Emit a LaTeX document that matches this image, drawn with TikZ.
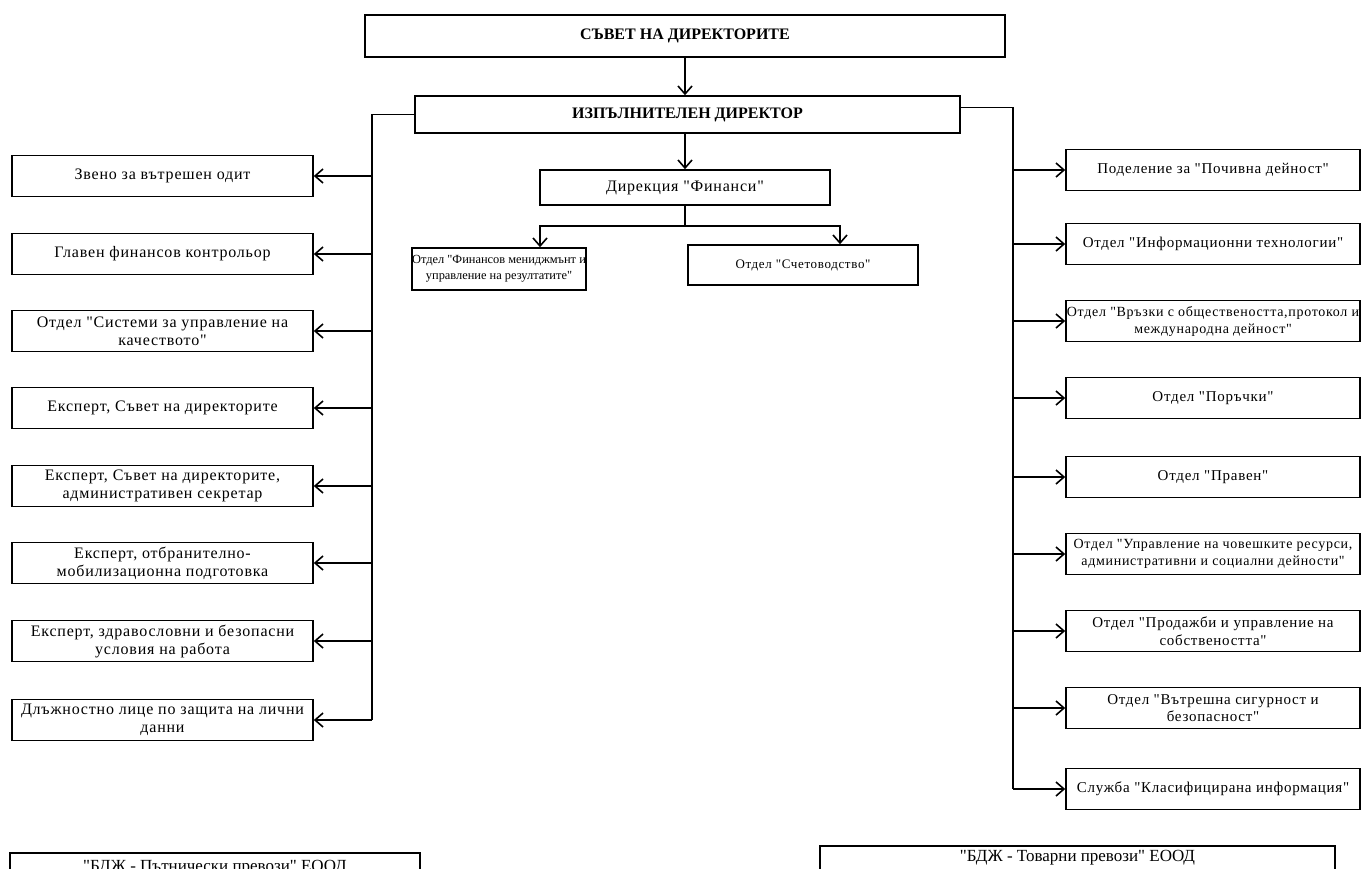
\documentclass[tikz,border=0pt]{standalone}
\usepackage{fontspec}
\setmainfont{Liberation Serif}[Ligatures=TeXOff]
\newfontfamily\unitfont{Liberation Serif}[LetterSpace=5,Ligatures=TeXOff]
\usepackage{tikz}
\usetikzlibrary{arrows.meta}

\begin{document}
\begin{tikzpicture}[->,>={Straight Barb[length=4pt,width=7pt]},x=0.5pt,y=-0.5pt,line width=0.8pt,
                unit/.style={draw,align=center,inner sep=1pt,font=\unitfont\fontsize{8}{9}\selectfont},
                left unit/.style={unit,minimum width=150.5pt,minimum height=20.5pt},
                right unit/.style={unit,minimum width=147pt,minimum height=20.5pt,font=\unitfont\fontsize{7.5}{8.8}\selectfont},
                head/.style={draw,font=\bfseries\fontsize{8}{9}\selectfont},
                firm/.style={draw,anchor=north,inner ysep=0pt,text depth=14pt,font=\fontsize{8.5}{10}\selectfont}]

            \useasboundingbox (0,0) rectangle (1363,868);

            \node[head, minimum width=320pt, minimum height=21pt] (SD) at (685,36) {СЪВЕТ НА ДИРЕКТОРИТЕ};
            \node[head, minimum width=272.5pt, minimum height=18.5pt] (ID) at (687.5,114.5) {ИЗПЪЛНИТЕЛЕН ДИРЕКТОР};
            \node[unit, minimum width=145pt, minimum height=17.5pt] (DF) at (685,187.5) {Дирекция "Финанси"};
            \node[unit, minimum width=86pt, minimum height=21pt, inner xsep=0pt, font=\fontsize{6.2}{8}\selectfont] (FM) at (499,269)
                {Отдел "Финансов мениджмънт и\\управление на резултатите"};
            \node[unit, minimum width=115pt, minimum height=20pt, font=\unitfont\fontsize{6.5}{8}\selectfont] (SC) at (803,265)
                {Отдел "Счетоводство"};

            \node[left unit] (L1) at (162.5,176) {Звено за вътрешен одит};
            \node[left unit] (L2) at (162.5,254) {Главен финансов контрольор};
            \node[left unit] (L3) at (162.5,331) {Отдел "Системи за управление на\\качеството"};
            \node[left unit] (L4) at (162.5,408) {Експерт, Съвет на директорите};
            \node[left unit] (L5) at (162.5,486) {Експерт, Съвет на директорите,\\административен секретар};
            \node[left unit] (L6) at (162.5,563) {Експерт, отбранително-\\мобилизационна подготовка};
            \node[left unit] (L7) at (162.5,641) {Експерт, здравословни и безопасни\\условия на работа};
            \node[left unit] (L8) at (162.5,720) {Длъжностно лице по защита на лични\\данни};

            \node[right unit] (R1) at (1213,170) {Поделение за  "Почивна дейност"};
            \node[right unit] (R2) at (1213,244) {Отдел "Информационни технологии"};
            \node[right unit, inner xsep=0pt, font=\unitfont\fontsize{7}{8.5}\selectfont] (R3) at (1213,321)
                {Отдел "Връзки с обществеността,протокол и\\международна дейност"};
            \node[right unit] (R4) at (1213,398) {Отдел "Поръчки"};
            \node[right unit] (R5) at (1213,477) {Отдел "Правен"};
            \node[right unit, font=\unitfont\fontsize{7}{8.5}\selectfont] (R6) at (1213,554)
                {Отдел "Управление на човешките ресурси,\\административни и социални дейности"};
            \node[right unit] (R7) at (1213,631) {Отдел "Продажби и управление на\\собствеността"};
            \node[right unit] (R8) at (1213,708) {Отдел "Вътрешна сигурност и\\безопасност"};
            \node[right unit] (R9) at (1213,789) {Служба "Класифицирана информация"};

            \node[firm, minimum width=205pt, text height=9.5pt] (PP) at (215,852) {"БДЖ - Пътнически превози" ЕООД};
            \node[firm, minimum width=257.5pt, text height=8pt] (TP) at (1077.5,845) {"БДЖ - Товарни превози" ЕООД};

            \coordinate (FK) at (685,226);
            \coordinate (FMin) at (540,0);
            \coordinate (SCin) at (840,0);
            \coordinate (LT) at (372,0);
            \coordinate (RT) at (1013,0);

            \draw (SD.south) -- (SD.south |- ID.north);
            \draw (DF.north |- ID.south) -- (DF.north);
            \draw[-] (DF.south) -- (FK);
            \draw (FK) -| (FM.north -| FMin);
            \draw (FK) -| (SC.north -| SCin);

            \draw[-] (ID.west) -| (L8.east -| LT);
            \foreach \n in {1,...,8}
                \draw (L\n.east -| LT) -- (L\n.east);
            \draw[-] ([yshift=3.5pt]ID.east) -| (R9.west -| RT);
            \foreach \n in {1,...,9}
                \draw (R\n.west -| RT) -- (R\n.west);

        \end{tikzpicture}
\end{document}
